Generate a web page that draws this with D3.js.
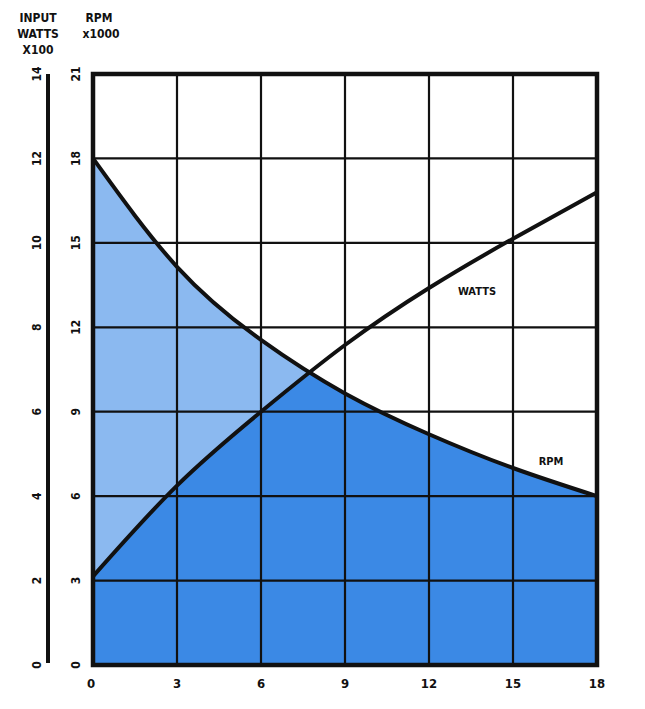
<!DOCTYPE html>
<html><head><meta charset="utf-8">
<script src="https://cdn.jsdelivr.net/npm/d3@7"></script>
<style>body{margin:0;background:#fff}text{font-family:"DejaVu Sans Condensed","DejaVu Sans",sans-serif;font-weight:bold;fill:#111}</style>
</head><body><svg id="c" width="645" height="709"></svg>
<script>
const loadX = [0, 3, 6, 9, 12, 15, 18];
const rpmValues = [18, 14.15, 11.55, 9.65, 8.2, 7.0, 6.0];
const wattsValues = [2.1, 4.25, 6.0, 7.58, 8.93, 10.1, 11.2];
const xTicks = [0, 3, 6, 9, 12, 15, 18];
const rpmTicks = [0, 3, 6, 9, 12, 15, 18, 21];
const wattsTicks = [0, 2, 4, 6, 8, 10, 12, 14];

const svg = d3.select("#c");
const L = 93, R = 597, T = 74, B = 665;
const x = d3.scaleLinear().domain([0, 18]).range([L, R]);
const yR = d3.scaleLinear().domain([0, 21]).range([B, T]);
const yW = d3.scaleLinear().domain([0, 14]).range([B, T]);

const pts = loadX.map((d, i) => ({x: d, r: rpmValues[i], w: wattsValues[i]}));
const curve = d3.curveNatural;

svg.append("path").datum(pts)
  .attr("d", d3.area().x(d => x(d.x)).y0(B).y1(d => yR(d.r)).curve(curve))
  .attr("fill", "#8bb9f0");

const defs = svg.append("defs");
defs.append("clipPath").attr("id", "wclip").append("path").datum(pts)
  .attr("d", d3.area().x(d => x(d.x)).y0(B).y1(d => yW(d.w)).curve(curve));
svg.append("path").datum(pts)
  .attr("d", d3.area().x(d => x(d.x)).y0(B).y1(d => yR(d.r)).curve(curve))
  .attr("fill", "#3b89e5").attr("clip-path", "url(#wclip)");

const g = svg.append("g");
xTicks.slice(1, -1).forEach(t => g.append("line").attr("x1", x(t)).attr("x2", x(t)).attr("y1", T).attr("y2", B).attr("stroke", "#111").attr("stroke-width", 2.2));
rpmTicks.slice(1, -1).forEach(t => g.append("line").attr("x1", L).attr("x2", R).attr("y1", yR(t)).attr("y2", yR(t)).attr("stroke", "#111").attr("stroke-width", 2.2));

svg.append("path").datum(pts).attr("d", d3.line().x(d => x(d.x)).y(d => yR(d.r)).curve(curve))
  .attr("fill", "none").attr("stroke", "#111").attr("stroke-width", 4);
svg.append("path").datum(pts).attr("d", d3.line().x(d => x(d.x)).y(d => yW(d.w)).curve(curve))
  .attr("fill", "none").attr("stroke", "#111").attr("stroke-width", 4);

svg.append("rect").attr("x", L).attr("y", T).attr("width", R - L).attr("height", B - T)
  .attr("fill", "none").attr("stroke", "#111").attr("stroke-width", 4.5);

svg.append("line").attr("x1", 48).attr("x2", 48).attr("y1", T).attr("y2", B - 2).attr("stroke", "#111").attr("stroke-width", 4);

xTicks.forEach(t => svg.append("text").attr("x", x(t) + (t === 0 ? -2 : 0)).attr("y", 688)
  .attr("text-anchor", "middle").attr("font-size", 13).text(t));

rpmTicks.forEach(t => svg.append("text").attr("transform", `translate(80,${yR(t)}) rotate(-90)`)
  .attr("text-anchor", "middle").attr("font-size", 12).text(t));
wattsTicks.forEach(t => svg.append("text").attr("transform", `translate(41,${yW(t)}) rotate(-90)`)
  .attr("text-anchor", "middle").attr("font-size", 12).text(t));

const tl = [["INPUT", 38, 22], ["WATTS", 38, 38], ["X100", 38, 54], ["RPM", 99, 22], ["x1000", 101, 38]];
tl.forEach(([s, xx, yy]) => svg.append("text").attr("x", xx).attr("y", yy).attr("text-anchor", "middle").attr("font-size", 12).text(s));

svg.append("text").attr("x", 477).attr("y", 295).attr("text-anchor", "middle").attr("font-size", 11).text("WATTS");
svg.append("text").attr("x", 551).attr("y", 465).attr("text-anchor", "middle").attr("font-size", 11).text("RPM");
</script></body></html>
